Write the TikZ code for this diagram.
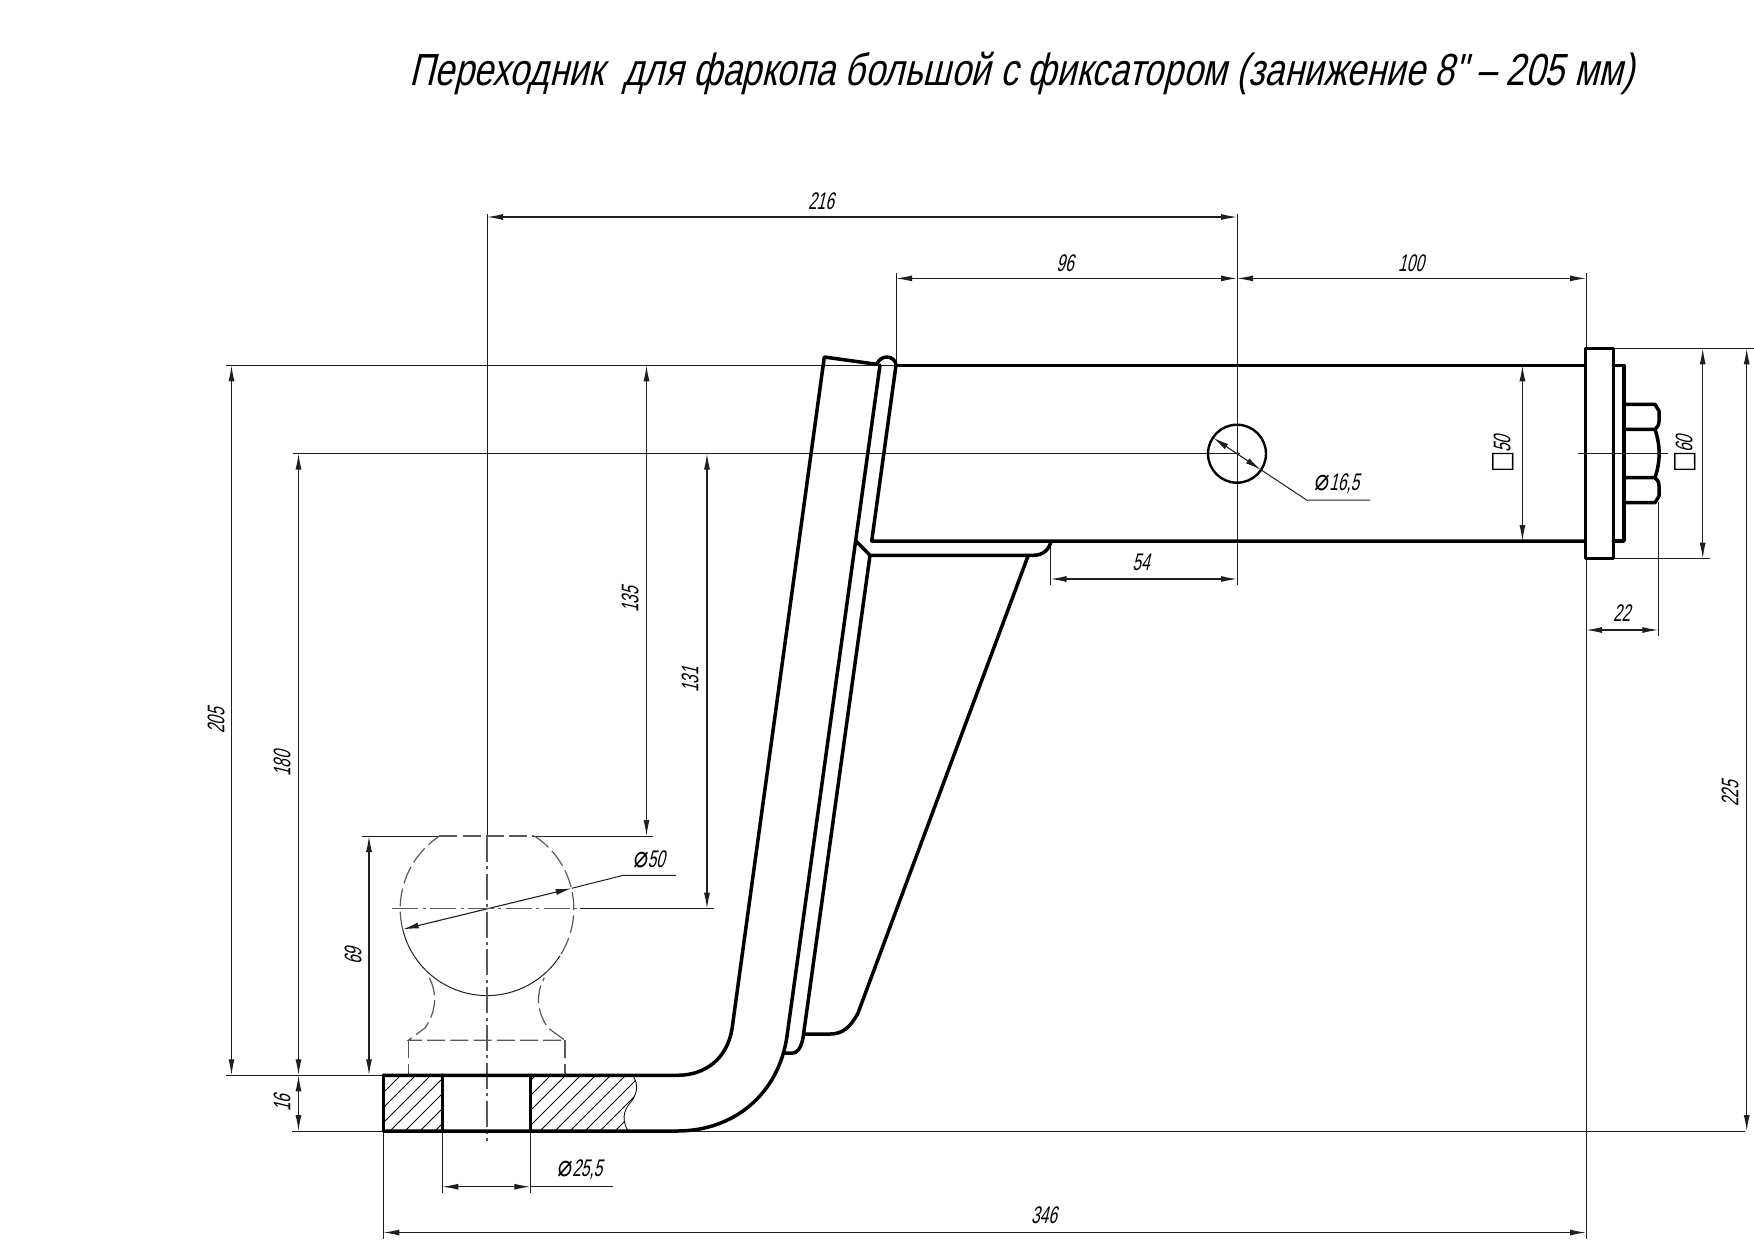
\documentclass[tikz,border=0pt]{standalone}
\usepackage{fontspec}
\usetikzlibrary{arrows.meta}
\newfontfamily\gost[FakeSlant=0.24,FakeStretch=0.64]{Liberation Sans}
\newfontfamily\gosttitle[FakeSlant=0.24,FakeStretch=0.782]{Liberation Sans}
\newfontfamily\gostsym[FakeStretch=0.8]{DejaVu Sans}
\newfontfamily\gostdia[FakeStretch=0.8,FakeSlant=0.1]{DejaVu Sans}
\newcommand{\dia}{{\gostdia\fontsize{15pt}{15pt}\selectfont ⌀}}
\newcommand{\sqr}{{\gostsym\fontsize{14pt}{14pt}\selectfont □}\hspace{-0.6pt}}
\definecolor{dimc}{gray}{0.12}
\definecolor{cenc}{gray}{0.35}
\tikzset{
  thickline/.style={line width=1.75pt,line cap=round,line join=round,black},
  thinline/.style={line width=0.5pt,dimc},
  dimline/.style={line width=0.55pt,dimc,{Latex[length=8pt,width=3pt]}-{Latex[length=8pt,width=3pt]}},
  hiddenline/.style={line width=0.6pt,cenc,dash pattern=on 9pt off 2.6pt},
  centerline/.style={line width=0.7pt,cenc,dash pattern=on 13pt off 2.2pt on 1.5pt off 2.2pt},
  hatchline/.style={line width=0.4pt,black},
  dimlabel/.style={inner sep=0pt,font=\gost\fontsize{12pt}{12pt}\selectfont,text=black},
  titlelabel/.style={inner sep=0pt,anchor=base west,font=\gosttitle\fontsize{22.5pt}{22.5pt}\selectfont,text=black}
}
\begin{document}
\begin{tikzpicture}[x=0.5pt,y=-0.5pt]
\useasboundingbox (0,0) rectangle (1754,1239);
\begin{scope}[yshift=-0.5pt]
% title
\node[titlelabel] (title) at (409,84) {Переходник\ \ для фаркопа большой с фиксатором (занижение 8" – 205 мм)};

% extension lines
\draw[thinline] (487,213) -- (487,835);
\draw[thinline] (1237,213) -- (1237,584);
\draw[thinline] (896,272) -- (896,364);
\draw[thinline] (1586,272) -- (1586,1238);
\draw[thinline] (383.3,1130) -- (383.3,1238);
\draw[thinline] (442.3,1130) -- (442.3,1192);
\draw[thinline] (530.3,1130) -- (530.3,1192);
\draw[thinline] (1050.5,540) -- (1050.5,584);
\draw[thinline] (1658.3,501) -- (1658.3,635);
\draw[thinline] (226,364.3) -- (896,364.3);
\draw[thinline] (293,452.5) -- (1240,452.5);
\draw[thinline] (1578,452.5) -- (1668,452.5);
\draw[thinline] (226,1074.3) -- (383.3,1074.3);
\draw[thinline] (292,1130) -- (1745,1130);
\draw[thinline] (361.7,835) -- (439.3,835);
\draw[thinline] (534,835) -- (653,835);
\draw[thinline] (580,907.7) -- (714,907.7);
\draw[thinline] (1613,347.3) -- (1754,347.3);
\draw[thinline] (1613,557.7) -- (1710,557.7);

% dimensions
\draw[dimline] (487,216) -- (1237,216);
\draw[dimline] (896,277.4) -- (1237,277.4);
\draw[dimline] (1237,277.4) -- (1586,277.4);
\draw[dimline] (1050.5,578) -- (1237,578);
\draw[dimline] (1586,629) -- (1658.3,629);
\draw[dimline] (383.3,1231.5) -- (1586,1231.5);
\draw[dimline] (442.3,1185.7) -- (530.3,1185.7);
\draw[thinline] (530.3,1185.7) -- (612.7,1185.7);
\draw[dimline] (231.5,364.3) -- (231.5,1074.3);
\draw[dimline] (298.5,452.5) -- (298.5,1074.3);
\draw[dimline] (298.5,1074.3) -- (298.5,1130);
\draw[dimline] (369,835) -- (369,1074.3);
\draw[dimline] (646.5,364.3) -- (646.5,835);
\draw[dimline] (707,452.5) -- (707,907.7);
\draw[dimline] (1522.4,364.3) -- (1522.4,540);
\draw[dimline] (1702.7,347.3) -- (1702.7,557.7);
\draw[dimline] (1746.7,347.3) -- (1746.7,1130);
% leaders
\draw[dimline] (402.7,928.3) -- (571.7,887.3);
\draw[thinline] (571.7,887.3) -- (623.3,874.3) -- (676,874.3);
\draw[dimline] (1213,436.6) -- (1261,468.8);
\draw[thinline] (1261,468.8) -- (1306.6,499) -- (1370,499);

% labels
\node[dimlabel] (d216) at (821,200) {216};
\node[dimlabel] (d96) at (1065,262) {96};
\node[dimlabel] (d100) at (1411,262) {100};
\node[dimlabel] (d54) at (1141,561) {54};
\node[dimlabel] (d22) at (1621.7,612) {22};
\node[dimlabel] (d346) at (1044,1214) {346};
\node[dimlabel] (d255) at (580,1169) {\dia 25,5};
\node[dimlabel] (d165) at (1337,483) {\dia 16,5};
\node[dimlabel] (d50b) at (649,858) {\dia 50};
\node[dimlabel,rotate=90] (d205) at (216,720) {205};
\node[dimlabel,rotate=90] (d180) at (282,763) {180};
\node[dimlabel,rotate=90] (d16) at (282,1102) {16};
\node[dimlabel,rotate=90] (d69) at (353,955) {69};
\node[dimlabel,rotate=90] (d135) at (630,599) {135};
\node[dimlabel,rotate=90] (d131) at (690,679) {131};
\node[dimlabel,rotate=90] (d225) at (1730,793) {225};
\node[dimlabel,rotate=90] (d50) at (1503,453) {\sqr 50};
\node[dimlabel,rotate=90] (d60) at (1685,453) {\sqr 60};

% hatching
\begin{scope}
\clip (383.3,1074.3) rectangle (442.3,1130);
\foreach \c in {330,345,...,450} \draw[hatchline] (\c,1130) -- (\c+56,1074);
\end{scope}
\begin{scope}
\clip (530.3,1074.3) -- (632.7,1074.3) .. controls (640,1085) and (636,1095) .. (630,1102) .. controls (623,1110) and (622,1120) .. (628,1130) -- (530.3,1130) -- cycle;
\foreach \c in {480,495,...,640} \draw[hatchline] (\c,1130) -- (\c+56,1074);
\end{scope}
\draw[hatchline] (632.7,1074.3) .. controls (640,1085) and (636,1095) .. (630,1102) .. controls (623,1110) and (622,1120) .. (628,1130);

% ball
\draw[thinline] (402.7,928.3) arc[start angle=166.3,end angle=32.8,radius=86.8];
\draw[hiddenline] (402.7,928.3) arc[start angle=166.3,end angle=236.9,radius=86.8];
\draw[hiddenline] (534.4,835) arc[start angle=-56.9,end angle=32.8,radius=86.8];
\draw[hiddenline] (439.3,835) -- (534,835);
\draw[hiddenline] (429.3,976.7) .. controls (436,990) and (438,1008) .. (425,1027) -- (408.3,1039.3) -- (565,1039.3) -- (548,1027) .. controls (535,1008) and (537,990) .. (544.3,976.7);
\draw[hiddenline] (408.3,1039.3) -- (408.3,1074);
\draw[hiddenline] (565,1039.3) -- (565,1074);
\draw[centerline] (487,835) -- (487,1140);
\draw[centerline] (392.3,907.7) -- (580,907.7);

% body
\draw[thickline] (383.3,1074.3) -- (677,1074.3) .. controls (705,1074.3) and (727,1058) .. (732,1028) -- (824.3,356) -- (876.7,363.3) .. controls (879,358) and (883,356) .. (887,356) .. controls (892,356) and (896,360) .. (896,364.3) -- (871.7,540) -- (1586,540);
\draw[thickline] (896,364.3) -- (1586,364.3);
\draw[thickline] (383.3,1130) -- (677,1130) .. controls (735,1130) and (779,1092) .. (787,1035) -- (880,364);
\draw[thickline] (383.3,1074.3) -- (383.3,1130);
\draw[thickline] (442.3,1074.3) -- (442.3,1130);
\draw[thickline] (530.3,1074.3) -- (530.3,1130);
\draw[thickline] (856,540) -- (870,554.3) -- (1033,554.3) .. controls (1043,554.3) and (1049,549) .. (1051,540);
\draw[thickline] (870,554.3) -- (803,1037) .. controls (801,1047) and (797,1052) .. (793,1052) -- (784,1052);
\draw[thickline] (1028,555) -- (858,1012) .. controls (850,1027) and (842,1033) .. (830,1033) -- (805,1033);
% hole
\draw[line width=1.2pt,black] (1237,452.7) circle[radius=29];
% plate, washer, nut
\draw[thickline,fill=white] (1585.5,347.3) rectangle (1613.3,557.7);
\draw[thickline] (1613.3,364.3) -- (1624,364.3) -- (1624,540) -- (1613.3,540);
\draw[thickline] (1624,403.3) -- (1655,403.3) -- (1659,410) -- (1659,420) .. controls (1659,424) and (1657,427) .. (1655,428.3) -- (1624,428.3);
\draw[thickline] (1624,501.7) -- (1655,501.7) -- (1659,495) -- (1659,485) .. controls (1659,481) and (1657,478) .. (1655,476.7) -- (1624,476.7);
\draw[thickline] (1655,428.3) .. controls (1660.5,445) and (1660.5,460) .. (1655,476.7);
\draw[thinline] (1578,452.5) -- (1668,452.5);
\end{scope}
\end{tikzpicture}
\end{document}
